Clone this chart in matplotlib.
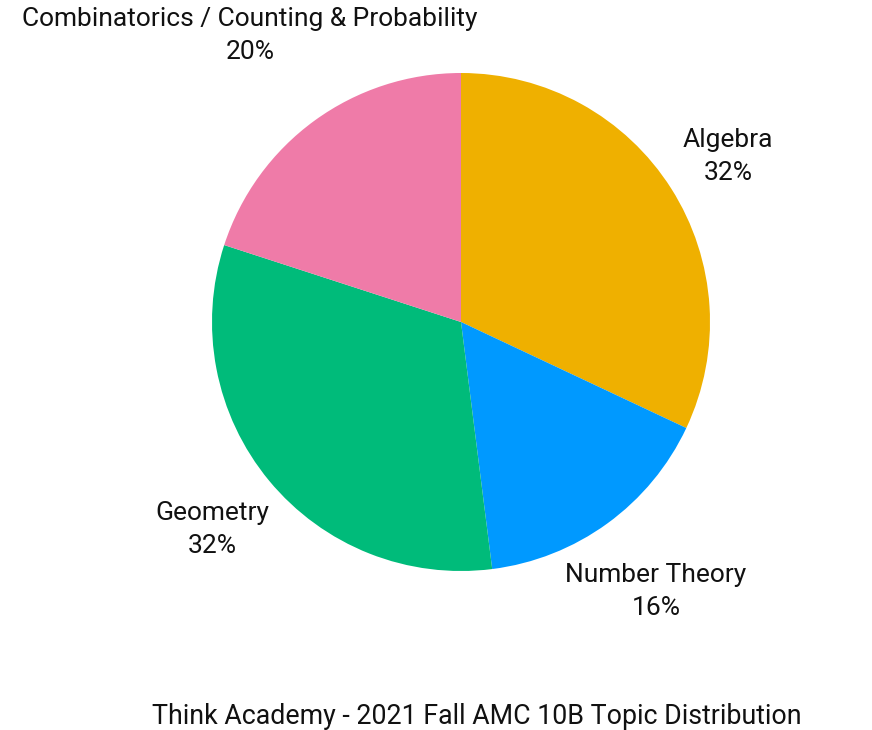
import matplotlib.pyplot as plt

plt.rcParams['font.family'] = ['Roboto', 'DejaVu Sans']

topics = ['Algebra', 'Number Theory', 'Geometry', 'Combinatorics / Counting & Probability']
shares = [32, 16, 32, 20]
colors = ['#EFB000', '#0099FF', '#00BB7A', '#EF7BA8']

# label centres in pie-radius units
label_pos = [(1.072, 0.665), (0.783, -1.082), (-1.0, -0.833), (-0.847, 1.151)]

fig = plt.figure(figsize=(8.72, 7.3), dpi=100)
ax = fig.add_axes([0, 0, 1, 1])

ax.pie(shares, colors=colors, startangle=90, counterclock=False,
       radius=1.0, center=(0, 0), wedgeprops=dict(linewidth=0))

for name, val, (x, y) in zip(topics, shares, label_pos):
    ax.text(x, y, f'{name}\n{val}%', ha='center', va='center',
            fontsize=19, linespacing=1.5, color='#111111')

ax.set_xlim(-461 / 249, (872 - 461) / 249)
ax.set_ylim((322 - 730) / 249, 322 / 249)
ax.set_aspect('auto')
ax.axis('off')

fig.text(477 / 872, 1 - 717 / 730, 'Think Academy - 2021 Fall AMC 10B Topic Distribution',
         ha='center', va='center', fontsize=19.3, color='#111111')

fig.savefig('out.png', dpi=100, facecolor='white')
